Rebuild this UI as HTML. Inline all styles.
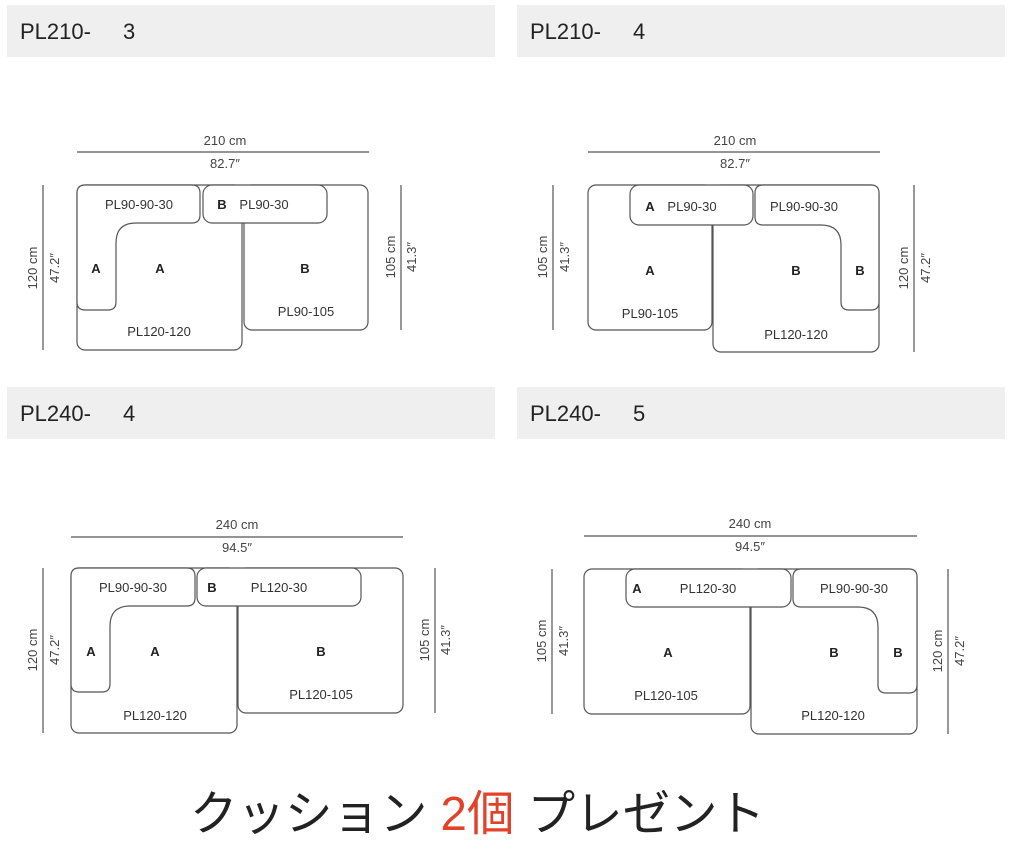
<!DOCTYPE html>
<html><head><meta charset="utf-8"><style>
html,body{margin:0;padding:0;background:#fff;}
svg{display:block}
.h{font-family:"Liberation Sans","DejaVu Sans",sans-serif;font-size:22px;fill:#222}
.t{font-family:"Liberation Sans","DejaVu Sans",sans-serif;font-size:13px;fill:#333}
.b{font-family:"Liberation Sans","DejaVu Sans",sans-serif;font-size:13px;font-weight:bold;fill:#222}
.d{font-family:"Liberation Sans","DejaVu Sans",sans-serif;font-size:13px;fill:#444}
.s{fill:#fff;stroke:#555;stroke-width:1.2}
.l{stroke:#555;stroke-width:1.2}
</style></head><body>
<svg width="1024" height="864" viewBox="0 0 1024 864" xmlns="http://www.w3.org/2000/svg">
<rect x="7" y="5" width="488" height="52" fill="#efefef"/>
<rect x="517" y="5" width="488" height="52" fill="#efefef"/>
<rect x="7" y="387" width="488" height="52" fill="#efefef"/>
<rect x="517" y="387" width="488" height="52" fill="#efefef"/>
<text class="h" x="20" y="39">PL210-</text><text class="h" x="123" y="39">3</text>
<text class="h" x="530" y="39">PL210-</text><text class="h" x="633" y="39">4</text>
<text class="h" x="20" y="421">PL240-</text><text class="h" x="123" y="421">4</text>
<text class="h" x="530" y="421">PL240-</text><text class="h" x="633" y="421">5</text>

<!-- Diagram 1 -->
<line class="l" x1="77" y1="152" x2="369" y2="152"/>
<text class="d" x="225" y="145" text-anchor="middle">210 cm</text>
<text class="d" x="225" y="168" text-anchor="middle">82.7″</text>
<line class="l" x1="43" y1="185" x2="43" y2="350"/>
<text class="d" transform="translate(37,268) rotate(-90)" text-anchor="middle">120 cm</text>
<text class="d" transform="translate(59,268) rotate(-90)" text-anchor="middle">47.2″</text>
<line class="l" x1="401" y1="185" x2="401" y2="330"/>
<text class="d" transform="translate(395,257) rotate(-90)" text-anchor="middle">105 cm</text>
<text class="d" transform="translate(416,257) rotate(-90)" text-anchor="middle">41.3″</text>
<rect class="s" x="244" y="185" width="124" height="145" rx="8"/>
<rect class="s" x="77" y="185" width="165" height="165" rx="8"/>
<path class="s" d="M85,185 H192 Q200,185 200,193 V215 Q200,223 192,223 H136 Q116,223 116,243 V302 Q116,310 108,310 H85 Q77,310 77,302 V193 Q77,185 85,185 Z"/>
<rect class="s" x="203" y="185" width="124" height="38" rx="9"/>
<text class="t" x="139" y="209" text-anchor="middle">PL90-90-30</text>
<text class="b" x="222" y="209" text-anchor="middle">B</text>
<text class="t" x="264" y="209" text-anchor="middle">PL90-30</text>
<text class="b" x="96" y="273" text-anchor="middle">A</text>
<text class="b" x="160" y="273" text-anchor="middle">A</text>
<text class="b" x="305" y="273" text-anchor="middle">B</text>
<text class="t" x="306" y="316" text-anchor="middle">PL90-105</text>
<text class="t" x="159" y="336" text-anchor="middle">PL120-120</text>

<!-- Diagram 2 -->
<line class="l" x1="588" y1="152" x2="880" y2="152"/>
<text class="d" x="735" y="145" text-anchor="middle">210 cm</text>
<text class="d" x="735" y="168" text-anchor="middle">82.7″</text>
<line class="l" x1="553" y1="185" x2="553" y2="330"/>
<text class="d" transform="translate(547,257) rotate(-90)" text-anchor="middle">105 cm</text>
<text class="d" transform="translate(569,257) rotate(-90)" text-anchor="middle">41.3″</text>
<line class="l" x1="914" y1="185" x2="914" y2="352"/>
<text class="d" transform="translate(908,268) rotate(-90)" text-anchor="middle">120 cm</text>
<text class="d" transform="translate(930,268) rotate(-90)" text-anchor="middle">47.2″</text>
<rect class="s" x="588" y="185" width="124" height="145" rx="8"/>
<rect class="s" x="713" y="185" width="166" height="167" rx="8"/>
<rect class="s" x="630" y="185" width="123" height="40" rx="9"/>
<path class="s" d="M763,185 H871 Q879,185 879,193 V302 Q879,310 871,310 H849 Q841,310 841,302 V245 Q841,225 821,225 H763 Q755,225 755,217 V193 Q755,185 763,185 Z"/>
<text class="b" x="650" y="211" text-anchor="middle">A</text>
<text class="t" x="692" y="211" text-anchor="middle">PL90-30</text>
<text class="t" x="804" y="211" text-anchor="middle">PL90-90-30</text>
<text class="b" x="650" y="275" text-anchor="middle">A</text>
<text class="b" x="796" y="275" text-anchor="middle">B</text>
<text class="b" x="860" y="275" text-anchor="middle">B</text>
<text class="t" x="650" y="318" text-anchor="middle">PL90-105</text>
<text class="t" x="796" y="339" text-anchor="middle">PL120-120</text>

<!-- Diagram 3 -->
<line class="l" x1="71" y1="537" x2="403" y2="537"/>
<text class="d" x="237" y="529" text-anchor="middle">240 cm</text>
<text class="d" x="237" y="552" text-anchor="middle">94.5″</text>
<line class="l" x1="43" y1="568" x2="43" y2="733"/>
<text class="d" transform="translate(37,650) rotate(-90)" text-anchor="middle">120 cm</text>
<text class="d" transform="translate(59,650) rotate(-90)" text-anchor="middle">47.2″</text>
<line class="l" x1="435" y1="568" x2="435" y2="713"/>
<text class="d" transform="translate(429,640) rotate(-90)" text-anchor="middle">105 cm</text>
<text class="d" transform="translate(450,640) rotate(-90)" text-anchor="middle">41.3″</text>
<rect class="s" x="238" y="568" width="165" height="145" rx="8"/>
<rect class="s" x="71" y="568" width="166" height="165" rx="8"/>
<path class="s" d="M79,568 H187 Q195,568 195,576 V598 Q195,606 187,606 H130 Q110,606 110,626 V684 Q110,692 102,692 H79 Q71,692 71,684 V576 Q71,568 79,568 Z"/>
<rect class="s" x="197" y="568" width="164" height="38" rx="9"/>
<text class="t" x="133" y="592" text-anchor="middle">PL90-90-30</text>
<text class="b" x="212" y="592" text-anchor="middle">B</text>
<text class="t" x="279" y="592" text-anchor="middle">PL120-30</text>
<text class="b" x="91" y="656" text-anchor="middle">A</text>
<text class="b" x="155" y="656" text-anchor="middle">A</text>
<text class="b" x="321" y="656" text-anchor="middle">B</text>
<text class="t" x="321" y="699" text-anchor="middle">PL120-105</text>
<text class="t" x="155" y="720" text-anchor="middle">PL120-120</text>

<!-- Diagram 4 -->
<line class="l" x1="584" y1="536" x2="917" y2="536"/>
<text class="d" x="750" y="528" text-anchor="middle">240 cm</text>
<text class="d" x="750" y="551" text-anchor="middle">94.5″</text>
<line class="l" x1="552" y1="569" x2="552" y2="714"/>
<text class="d" transform="translate(546,641) rotate(-90)" text-anchor="middle">105 cm</text>
<text class="d" transform="translate(568,641) rotate(-90)" text-anchor="middle">41.3″</text>
<line class="l" x1="948" y1="569" x2="948" y2="734"/>
<text class="d" transform="translate(942,651) rotate(-90)" text-anchor="middle">120 cm</text>
<text class="d" transform="translate(964,651) rotate(-90)" text-anchor="middle">47.2″</text>
<rect class="s" x="584" y="569" width="166" height="145" rx="8"/>
<rect class="s" x="751" y="569" width="166" height="165" rx="8"/>
<rect class="s" x="626" y="569" width="165" height="38" rx="9"/>
<path class="s" d="M801,569 H909 Q917,569 917,577 V685 Q917,693 909,693 H886 Q878,693 878,685 V627 Q878,607 858,607 H801 Q793,607 793,599 V577 Q793,569 801,569 Z"/>
<text class="b" x="637" y="593" text-anchor="middle">A</text>
<text class="t" x="708" y="593" text-anchor="middle">PL120-30</text>
<text class="t" x="854" y="593" text-anchor="middle">PL90-90-30</text>
<text class="b" x="668" y="657" text-anchor="middle">A</text>
<text class="b" x="834" y="657" text-anchor="middle">B</text>
<text class="b" x="898" y="657" text-anchor="middle">B</text>
<text class="t" x="666" y="700" text-anchor="middle">PL120-105</text>
<text class="t" x="833" y="720" text-anchor="middle">PL120-120</text>

<text x="190" y="830" textLength="575" lengthAdjust="spacingAndGlyphs" style="font-family:'Liberation Sans','Noto Sans CJK JP',sans-serif;font-size:48px;fill:#222">クッション <tspan fill="#e0432a">2個</tspan> プレゼント</text>
</svg>
</body></html>
